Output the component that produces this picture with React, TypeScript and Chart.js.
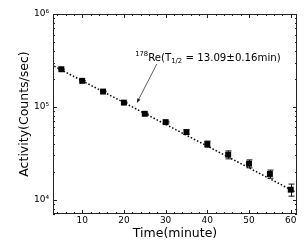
import { useEffect, useRef } from "react";
import { Chart, registerables } from "chart.js";

Chart.register(...registerables);

// ---- data ----
const times = [5, 10, 15, 20, 25, 30, 35, 40, 45, 50, 55, 60];
const activity = [254000, 190500, 146000, 111000, 84100, 68400, 53400, 39700, 30500, 24400, 18900, 12800];
const errors = [2000, 1800, 1600, 1500, 1400, 1500, 3000, 3000, 3000, 2400, 1900, 1900];
const fitTimes = [3.3, 61.5];
const fitActivity = [274000, 11800];
const xTicks = [10, 20, 30, 40, 50, 60];
const yTicks = [1e4, 1e5, 1e6];
const yTickLabels = ["10⁴", "10⁵", "10⁶"];
const xTitle = "Time(minute)";
const yTitle = "Activity(Counts/sec)";
const annIsotope = "178";
const annMain = "Re(T";
const annSub = "1/2";
const annRest = " = 13.09±0.16min)";
const annPos = [22.7, 315000];
const arrowTail = [27.9, 290000];
const arrowHead = [23.1, 110000];

const FONT = "'DejaVu Sans', sans-serif";

export default function App() {
  const ref = useRef<HTMLCanvasElement>(null);

  useEffect(() => {
    document.body.style.margin = "0";
    const canvas = ref.current!;

    const decor = {
      id: "decor",
      beforeDatasetsDraw(chart: any) {
        const { ctx } = chart;
        const xs = chart.scales.x;
        const ys = chart.scales.y;
        ctx.save();
        ctx.strokeStyle = "#111";
        ctx.lineWidth = 1;
        times.forEach((t, i) => {
          const e = errors[i];
          const px = Math.round(xs.getPixelForValue(t)) + 0.5;
          const y1 = ys.getPixelForValue(activity[i] + e);
          const y2 = ys.getPixelForValue(activity[i] - e);
          ctx.beginPath();
          ctx.moveTo(px, y1);
          ctx.lineTo(px, y2);
          ctx.moveTo(px - 3, y1);
          ctx.lineTo(px + 3, y1);
          ctx.moveTo(px - 3, y2);
          ctx.lineTo(px + 3, y2);
          ctx.stroke();
        });
        ctx.restore();
      },
      afterDraw(chart: any) {
        const { ctx, chartArea } = chart;
        const xs = chart.scales.x;
        const ys = chart.scales.y;
        const { left, right, top, bottom } = chartArea;
        ctx.save();
        ctx.strokeStyle = "#222";
        ctx.lineWidth = 1;
        // frame
        ctx.strokeRect(Math.round(left) + 0.5, Math.round(top) + 0.5, Math.round(right - left) - 1, Math.round(bottom - top) - 1);
        ctx.beginPath();
        // x ticks
        for (let v = 4; v <= 61; v += 2) {
          const major = v % 10 === 0;
          const len = major ? 4 : 2;
          const px = Math.round(xs.getPixelForValue(v)) + 0.5;
          ctx.moveTo(px, bottom);
          ctx.lineTo(px, bottom - len);
          ctx.moveTo(px, top);
          ctx.lineTo(px, top + len);
        }
        // y ticks
        for (let d = 3; d <= 6; d++) {
          for (let k = 1; k <= 9; k++) {
            const v = k * Math.pow(10, d);
            if (v < ys.min || v > ys.max) continue;
            const len = k === 1 ? 4 : 2;
            const py = Math.round(ys.getPixelForValue(v)) + 0.5;
            ctx.moveTo(left, py);
            ctx.lineTo(left + len, py);
            ctx.moveTo(right, py);
            ctx.lineTo(right - len, py);
          }
        }
        ctx.stroke();

        // arrow
        const tx = xs.getPixelForValue(arrowTail[0]);
        const ty = ys.getPixelForValue(arrowTail[1]);
        const hx = xs.getPixelForValue(arrowHead[0]);
        const hy = ys.getPixelForValue(arrowHead[1]);
        const ang = Math.atan2(hy - ty, hx - tx);
        ctx.strokeStyle = "#333";
        ctx.lineWidth = 0.8;
        ctx.beginPath();
        ctx.moveTo(tx, ty);
        ctx.lineTo(hx - 3 * Math.cos(ang), hy - 3 * Math.sin(ang));
        ctx.stroke();
        ctx.fillStyle = "#222";
        ctx.beginPath();
        ctx.moveTo(hx, hy);
        ctx.lineTo(hx - 4.5 * Math.cos(ang) + 1.8 * Math.sin(ang), hy - 4.5 * Math.sin(ang) - 1.8 * Math.cos(ang));
        ctx.lineTo(hx - 4.5 * Math.cos(ang) - 1.8 * Math.sin(ang), hy - 4.5 * Math.sin(ang) + 1.8 * Math.cos(ang));
        ctx.closePath();
        ctx.fill();

        // annotation text
        const ax = xs.getPixelForValue(annPos[0]);
        const ay = ys.getPixelForValue(annPos[1]);
        ctx.fillStyle = "#000";
        ctx.textBaseline = "alphabetic";
        ctx.textAlign = "left";
        let cx = ax;
        ctx.font = `6.8px ${FONT}`;
        ctx.fillText(annIsotope, cx, ay - 4.5);
        cx += ctx.measureText(annIsotope).width;
        ctx.font = `10.2px ${FONT}`;
        ctx.fillText(annMain, cx, ay);
        cx += ctx.measureText(annMain).width;
        ctx.font = `6.8px ${FONT}`;
        ctx.fillText(annSub, cx, ay + 2);
        cx += ctx.measureText(annSub).width;
        ctx.font = `10.2px ${FONT}`;
        ctx.fillText(annRest, cx, ay);
        ctx.restore();
      },
    };

    const chart = new Chart(canvas, {
      type: "scatter",
      data: {
        datasets: [
          {
            data: times.map((t, i) => ({ x: t, y: activity[i] })),
            pointStyle: "rect",
            pointRadius: 4.2,
            backgroundColor: "#000",
            borderColor: "#000",
            borderWidth: 0,
            showLine: false,
          },
          {
            data: fitTimes.map((t, i) => ({ x: t, y: fitActivity[i] })),
            showLine: true,
            pointRadius: 0,
            borderColor: "#000",
            borderWidth: 1.5,
            borderDash: [1.5, 2],
            fill: false,
          },
        ],
      },
      options: {
        responsive: false,
        animation: false,
        events: [],
        layout: { padding: { top: 14, right: 8, left: 0, bottom: 0 } },
        plugins: { legend: { display: false }, tooltip: { enabled: false } },
        scales: {
          x: {
            type: "linear",
            min: 3,
            max: 61.5,
            grid: { display: false, drawTicks: false },
            border: { display: false },
            afterBuildTicks: (s: any) => {
              s.ticks = xTicks.map((v) => ({ value: v }));
            },
            afterFit: (s: any) => {
              s.height = 31;
            },
            ticks: {
              autoSkip: false,
              maxRotation: 0,
              padding: 1,
              color: "#000",
              font: { family: FONT, size: 9 },
            },
            title: {
              display: true,
              text: xTitle,
              color: "#000",
              font: { family: FONT, size: 12.5 },
              padding: { top: 0, bottom: 4 },
            },
          },
          y: {
            type: "logarithmic",
            min: 7000,
            max: 1e6,
            grid: { display: false, drawTicks: false },
            border: { display: false },
            afterBuildTicks: (s: any) => {
              s.ticks = yTicks.map((v) => ({ value: v }));
            },
            afterFit: (s: any) => {
              s.width = 53;
            },
            ticks: {
              autoSkip: false,
              padding: 4,
              color: "#000",
              font: { family: FONT, size: 9 },
              callback: (v: any) => {
                const i = yTicks.findIndex((t) => Math.abs(t - Number(v)) / t < 1e-6);
                return i >= 0 ? yTickLabels[i] : "";
              },
            },
            title: {
              display: true,
              text: yTitle,
              color: "#000",
              font: { family: FONT, size: 12.5 },
              padding: { top: 17, bottom: 0 },
            },
          },
        },
      },
      plugins: [decor],
    } as any);

    return () => chart.destroy();
  }, []);

  return <canvas ref={ref} width={305} height={245} style={{ display: "block" }} />;
}
